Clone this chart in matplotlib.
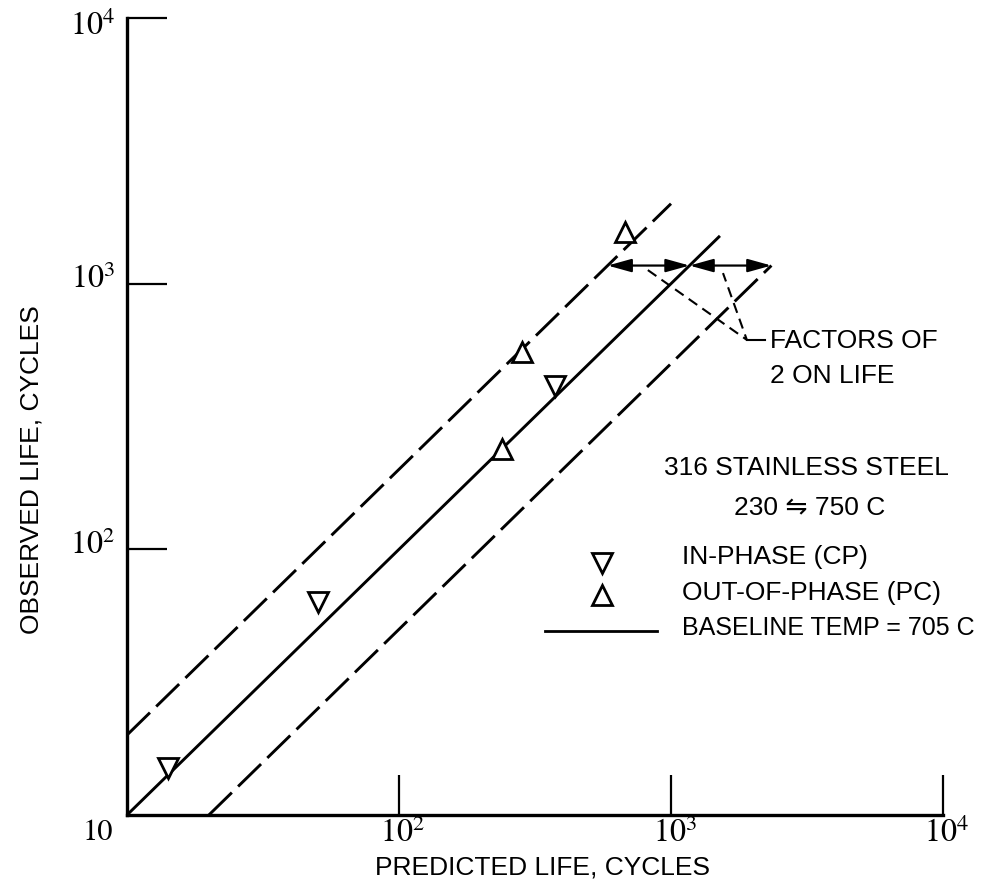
import numpy as np
import matplotlib.pyplot as plt

## data
decades = [10, 100, 1000, 10000]
dec_labels = ['10', r'$10^2$', r'$10^3$', r'$10^4$']

inphase_pred = [14.2, 50.5, 375]
inphase_obs = [15.0, 63.5, 412]
outphase_pred = [239, 283, 677]
outphase_obs = [238, 553, 1563]

baseline_pred = [10, 1500]     # observed = predicted
upper_pred = [10, 1000]        # observed = 2 x predicted
lower_pred = [20, 2340]        # observed = predicted / 2

arrow_obs = 1170
arrow_pred = [585, 1170, 2340]

leader_pred = [822, 1901, 1553]
leader_obs = [1125, 614, 1096]
leader_tail = [1901, 2218]

## fonts
narrow = ['Liberation Sans', 'DejaVu Sans']
plt.rcParams['mathtext.fontset'] = 'stix'

fig = plt.figure(figsize=(9.88, 8.91), dpi=100)
ax = fig.add_axes([127/988, 1-815/891, 816/988, 797/891])
ax.set_xscale('log')
ax.set_yscale('log')
ax.set_xlim(10, 1e4)
ax.set_ylim(10, 1e4)

for s in ['top', 'right']:
    ax.spines[s].set_visible(False)
for s in ['left', 'bottom']:
    ax.spines[s].set_linewidth(2.4)

ax.set_xticks(decades[1:])
ax.set_yticks(decades[1:])
ax.minorticks_off()
ax.tick_params(which='major', direction='in', length=29, width=1.6,
               labelbottom=False, labelleft=False)

## tick labels drawn by hand so "10" can sit at the corner
ax.annotate(dec_labels[0], xy=(decades[0], 0), xycoords=('data', 'axes fraction'),
            xytext=(-14, -18), textcoords='offset pixels', ha='right', va='center',
            fontsize=22, family='STIXGeneral')
for v, lab in zip(decades[1:], dec_labels[1:]):
    ax.annotate(lab, xy=(v, 0), xycoords=('data', 'axes fraction'),
                xytext=(4, -19), textcoords='offset pixels', ha='center', va='center',
                fontsize=23)
    ax.annotate(lab, xy=(0, v), xycoords=('axes fraction', 'data'),
                xytext=(-12, 4 if v < 1e4 else -8), textcoords='offset pixels',
                ha='right', va='center', fontsize=23)

## lines
ax.plot(baseline_pred, baseline_pred, color='k', lw=2.1)
ax.plot(upper_pred, [2*p for p in upper_pred], color='k', lw=2.1, dashes=(11, 3))
ax.plot(lower_pred, [p/2 for p in lower_pred], color='k', lw=2.1, dashes=(11, 3))

## data points
ax.plot(inphase_pred, inphase_obs, linestyle='none', marker='v', ms=15,
        mfc='white', mec='k', mew=2, zorder=5)
ax.plot(outphase_pred, outphase_obs, linestyle='none', marker='^', ms=15,
        mfc='white', mec='k', mew=2, zorder=5)

## factor of 2 arrows
for a, b in zip(arrow_pred[:-1], arrow_pred[1:]):
    ax.annotate('', xy=(a, arrow_obs), xytext=(b, arrow_obs),
                arrowprops=dict(arrowstyle='<|-|>,head_length=0.9,head_width=0.25',
                                color='k', lw=1.6, mutation_scale=16,
                                shrinkA=0, shrinkB=0))

ax.plot(leader_pred, leader_obs, color='k', lw=1.5, dashes=(5, 3))
ax.plot(leader_tail, [leader_obs[1]]*2, color='k', lw=1.5)
ax.text(0.788, 0.595, 'FACTORS OF', transform=ax.transAxes, ha='left', va='center',
        fontsize=19, family=narrow)
ax.text(0.788, 0.551, '2 ON LIFE', transform=ax.transAxes, ha='left', va='center',
        fontsize=19, family=narrow)

## legend block
ax.text(0.833, 0.435, '316 STAINLESS STEEL', transform=ax.transAxes, ha='center',
        va='center', fontsize=19, family=narrow)
ax.text(0.836, 0.385, '230 \u21cb 750 C', transform=ax.transAxes, ha='center',
        va='center', fontsize=19, family=narrow)
ax.plot([0.582], [0.316], transform=ax.transAxes, marker='v', ms=15,
        mfc='white', mec='k', mew=2, clip_on=False)
ax.plot([0.582], [0.276], transform=ax.transAxes, marker='^', ms=15,
        mfc='white', mec='k', mew=2, clip_on=False)
ax.plot([0.512, 0.650], [0.231, 0.231], transform=ax.transAxes, color='k', lw=2)
ax.text(0.68, 0.324, 'IN-PHASE (CP)', transform=ax.transAxes, ha='left',
        va='center', fontsize=19, family=narrow)
ax.text(0.68, 0.279, 'OUT-OF-PHASE (PC)', transform=ax.transAxes, ha='left',
        va='center', fontsize=19, family=narrow)
ax.text(0.68, 0.235, 'BASELINE TEMP = 705 C', transform=ax.transAxes, ha='left',
        va='center', fontsize=18, family=narrow)

## axis titles
fig.text(542/988, 1-867/891, 'PREDICTED LIFE, CYCLES', ha='center', va='center',
         fontsize=19, family=narrow)
fig.text(32/988, 1-470/891, 'OBSERVED LIFE, CYCLES', ha='center', va='center',
         rotation=90, fontsize=19, family=narrow)

fig.savefig('out.png', dpi=100)
